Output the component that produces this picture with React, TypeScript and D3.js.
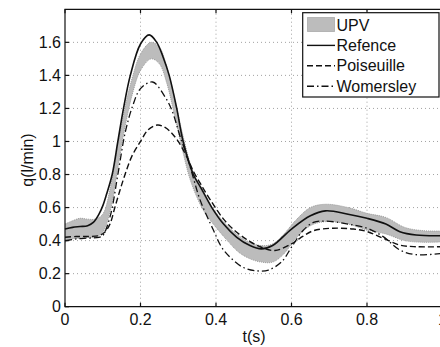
import { useEffect, useRef } from 'react';
import * as d3 from 'd3';

// UPV band (upper / lower bound)
const upvT = [0, 0.02, 0.04, 0.06, 0.08, 0.1, 0.12, 0.14, 0.16, 0.18, 0.2, 0.228, 0.25, 0.27, 0.29, 0.31, 0.33, 0.35, 0.37, 0.4, 0.43, 0.46, 0.49, 0.52, 0.55, 0.58, 0.61, 0.65, 0.69, 0.75, 0.8, 0.85, 0.9, 0.95, 1.0];
const upvHigh = [0.50, 0.52, 0.535, 0.53, 0.53, 0.56, 0.72, 0.98, 1.22, 1.40, 1.53, 1.60, 1.57, 1.45, 1.26, 1.06, 0.88, 0.76, 0.67, 0.57, 0.49, 0.43, 0.39, 0.37, 0.38, 0.44, 0.52, 0.60, 0.62, 0.60, 0.565, 0.54, 0.48, 0.46, 0.458];
const upvLow = [0.39, 0.41, 0.415, 0.42, 0.42, 0.45, 0.58, 0.84, 1.10, 1.30, 1.43, 1.50, 1.47, 1.35, 1.16, 0.96, 0.78, 0.66, 0.57, 0.48, 0.40, 0.33, 0.29, 0.27, 0.27, 0.32, 0.41, 0.49, 0.515, 0.50, 0.464, 0.44, 0.40, 0.39, 0.393];

const refT = [0, 0.02, 0.04, 0.06, 0.075, 0.09, 0.1, 0.11, 0.125, 0.14, 0.155, 0.173, 0.2, 0.223, 0.243, 0.26, 0.276, 0.296, 0.313, 0.34, 0.36, 0.389, 0.42, 0.455, 0.49, 0.52, 0.55, 0.6, 0.65, 0.69, 0.75, 0.8, 0.85, 0.887, 0.93, 1.0];
const refQ = [0.47, 0.48, 0.485, 0.49, 0.51, 0.56, 0.61, 0.68, 0.8, 1.0, 1.2, 1.4, 1.59, 1.645, 1.6, 1.51, 1.4, 1.2, 1.0, 0.8, 0.72, 0.6, 0.5, 0.42, 0.37, 0.35, 0.37, 0.47, 0.55, 0.58, 0.56, 0.535, 0.5, 0.454, 0.434, 0.43];

const poisT = [0, 0.03, 0.06, 0.09, 0.105, 0.119, 0.132, 0.145, 0.159, 0.177, 0.2, 0.22, 0.245, 0.265, 0.283, 0.3, 0.322, 0.34, 0.36, 0.384, 0.42, 0.45, 0.486, 0.52, 0.556, 0.6, 0.622, 0.658, 0.711, 0.764, 0.8, 0.843, 0.887, 0.932, 1.0];
const poisQ = [0.42, 0.425, 0.425, 0.43, 0.45, 0.5, 0.6, 0.7, 0.8, 0.91, 1.0, 1.07, 1.1, 1.085, 1.05, 1.0, 0.91, 0.82, 0.74, 0.65, 0.53, 0.46, 0.4, 0.36, 0.34, 0.38, 0.414, 0.46, 0.475, 0.47, 0.455, 0.414, 0.373, 0.363, 0.363];

const womT = [0, 0.03, 0.06, 0.09, 0.1, 0.12, 0.14, 0.16, 0.18, 0.2, 0.232, 0.265, 0.283, 0.305, 0.322, 0.34, 0.358, 0.393, 0.415, 0.437, 0.47, 0.503, 0.539, 0.574, 0.6, 0.63, 0.658, 0.69, 0.75, 0.8, 0.843, 0.887, 0.93, 1.0];
const womQ = [0.40, 0.41, 0.415, 0.42, 0.43, 0.55, 0.8, 1.06, 1.22, 1.32, 1.36, 1.27, 1.19, 1.03, 0.92, 0.78, 0.645, 0.464, 0.36, 0.30, 0.24, 0.218, 0.222, 0.272, 0.36, 0.46, 0.51, 0.518, 0.5, 0.475, 0.424, 0.343, 0.315, 0.323];

const xTicks = [0, 0.2, 0.4, 0.6, 0.8, 1];
const yTicks = [0, 0.2, 0.4, 0.6, 0.8, 1, 1.2, 1.4, 1.6];
const legendLabels = ['UPV', 'Refence', 'Poiseuille', 'Womersley'];

const FONT = '"Liberation Sans", Arial, Helvetica, sans-serif';

export default function App() {
  const svgRef = useRef<SVGSVGElement | null>(null);

  useEffect(() => {
    if (!svgRef.current) return;
    const svg = d3.select(svgRef.current);
    svg.selectAll('*').remove();

    const x = d3.scaleLinear().domain([0, 1]).range([65, 442.5]);
    const y = d3.scaleLinear().domain([0, 1.8]).range([306.7, 9.3]);
    const [x0, x1] = x.range();
    const [y0, y1] = y.range();

    // grid
    const grid = svg.append('g').attr('stroke', '#8a8a8a').attr('stroke-width', 0.8).attr('stroke-dasharray', '1,3');
    xTicks.slice(1).forEach(t => {
      grid.append('line').attr('x1', x(t)).attr('x2', x(t)).attr('y1', y0).attr('y2', y1);
    });
    yTicks.slice(1).forEach(v => {
      grid.append('line').attr('x1', x0).attr('x2', x1).attr('y1', y(v)).attr('y2', y(v));
    });

    const curve = d3.curveCatmullRom.alpha(0.5);

    // UPV band
    const band = upvT.map((t, i) => ({ t, hi: upvHigh[i], lo: upvLow[i] }));
    const area = d3.area<{ t: number; hi: number; lo: number }>()
      .x(d => x(d.t)).y0(d => y(d.lo)).y1(d => y(d.hi)).curve(curve);
    svg.append('path').datum(band).attr('d', area).attr('fill', '#bcbcbc');
    const edge = (key: 'hi' | 'lo') => d3.line<{ t: number; hi: number; lo: number }>()
      .x(d => x(d.t)).y(d => y(d[key])).curve(curve);
    ['hi', 'lo'].forEach(k => {
      svg.append('path').datum(band).attr('d', edge(k as 'hi' | 'lo'))
        .attr('fill', 'none').attr('stroke', '#9a9a9a').attr('stroke-width', 1).attr('stroke-dasharray', '1,1');
    });

    const series = [
      { ts: poisT, qs: poisQ, dash: '6,3', w: 1.4 },
      { ts: womT, qs: womQ, dash: '7,3,1.5,3', w: 1.3 },
      { ts: refT, qs: refQ, dash: null, w: 1.6 },
    ];
    series.forEach(s => {
      const pts = s.ts.map((t, i) => [x(t), y(s.qs[i])] as [number, number]);
      const p = svg.append('path').attr('d', d3.line().curve(curve)(pts))
        .attr('fill', 'none').attr('stroke', '#111').attr('stroke-width', s.w);
      if (s.dash) p.attr('stroke-dasharray', s.dash);
    });

    // frame + ticks
    const frame = svg.append('g').attr('stroke', '#111').attr('stroke-width', 1.2).attr('fill', 'none');
    frame.append('path').attr('d', `M${x1},${y1}H${x0}V${y0}H${x1}`);
    xTicks.forEach(t => {
      frame.append('line').attr('x1', x(t)).attr('x2', x(t)).attr('y1', y0).attr('y2', y0 - 4);
      frame.append('line').attr('x1', x(t)).attr('x2', x(t)).attr('y1', y1).attr('y2', y1 + 4);
    });
    yTicks.forEach(v => {
      frame.append('line').attr('x1', x0).attr('x2', x0 + 4).attr('y1', y(v)).attr('y2', y(v));
    });

    const txt = svg.append('g').attr('font-family', FONT).attr('font-size', 16).attr('fill', '#111');
    xTicks.forEach(t => {
      txt.append('text').attr('x', x(t)).attr('y', 325).attr('text-anchor', 'middle').text(d3.format('~g')(t));
    });
    yTicks.forEach(v => {
      txt.append('text').attr('x', 61).attr('y', y(v)).attr('dy', '0.35em').attr('text-anchor', 'end').text(d3.format('~g')(v));
    });
    txt.append('text').attr('x', 254).attr('y', 342).attr('text-anchor', 'middle').text('t(s)');
    txt.append('text').attr('transform', 'translate(33,160) rotate(-90)').attr('text-anchor', 'middle').text('q(l/min)');

    // legend
    const lg = svg.append('g');
    lg.append('rect').attr('x', 302.7).attr('y', 12.7).attr('width', 136.3).attr('height', 84.3)
      .attr('fill', '#fff').attr('stroke', '#111').attr('stroke-width', 1.2);
    const rowY = (i: number) => 25 + i * 20.4;
    lg.append('rect').attr('x', 307.5).attr('y', 17.5).attr('width', 27).attr('height', 14)
      .attr('fill', '#bcbcbc').attr('stroke', '#8a8a8a').attr('stroke-width', 1).attr('stroke-dasharray', '1,1');
    const dashes = [null, null, '6,3', '7,3,1.5,3'];
    [1, 2, 3].forEach(i => {
      const l = lg.append('line').attr('x1', 307).attr('x2', 335).attr('y1', rowY(i)).attr('y2', rowY(i))
        .attr('stroke', '#111').attr('stroke-width', 1.4);
      if (dashes[i]) l.attr('stroke-dasharray', dashes[i] as string);
    });
    legendLabels.forEach((lab, i) => {
      lg.append('text').attr('x', 336.5).attr('y', rowY(i)).attr('dy', '0.35em')
        .attr('font-family', FONT).attr('font-size', 16).attr('fill', '#111').text(lab);
    });
  }, []);

  return (
    <svg ref={svgRef} width={440} height={347}
      style={{ position: 'absolute', left: 0, top: 0, background: '#fff' }} />
  );
}
